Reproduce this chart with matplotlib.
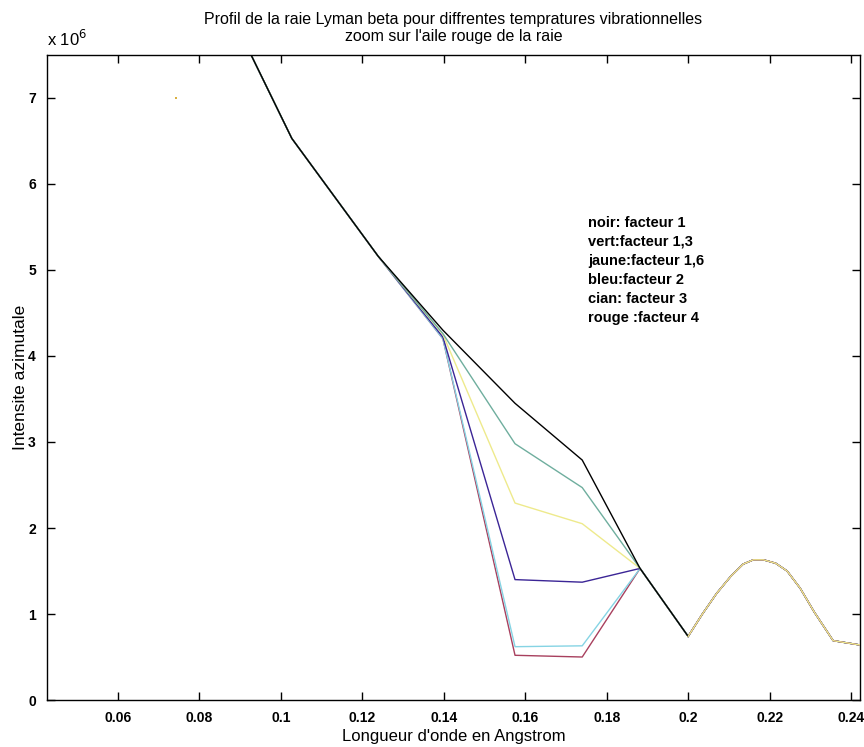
import numpy as np
import matplotlib
matplotlib.use("Agg")
import matplotlib.pyplot as plt
from matplotlib.ticker import FuncFormatter

SCALE = 1e6
# wavelength grid (Angstrom)
x = [0.0855, 0.1027, 0.1239, 0.1398, 0.1575, 0.1740, 0.1882, 0.2000,
     0.2035, 0.2070, 0.2105, 0.2135, 0.2160, 0.2185, 0.2215, 0.2243,
     0.2275, 0.2310, 0.2356, 0.2422]
# common tail (x >= 0.1882)
tail = [1.53, 0.74, 1.00, 1.24, 1.44, 1.58, 1.63, 1.63, 1.59, 1.50,
        1.30, 1.02, 0.69, 0.64]
head = [8.20, 6.53, 5.16]
noir = head + [4.30, 3.45, 2.79] + tail
vert = head + [4.26, 2.98, 2.47] + tail
jaune = head + [4.25, 2.29, 2.05] + tail
bleu = head + [4.22, 1.40, 1.37] + tail
cian = head + [4.20, 0.62, 0.63] + tail
rouge = head + [4.20, 0.52, 0.50] + tail

point_x, point_y = [0.0742], [7.0]

series = [
    (noir, 'black', 6, 1),
    (vert, '#6fae9e', 5, 3),
    (jaune, '#eeea8c', 4, 6),
    (bleu, '#3b2596', 3, 4),
    (cian, '#86d4e4', 2, 2),
    (rouge, '#a8405e', 1, 5),
]
SPLIT = 7  # index of x = 0.2 : left part / right part drawn with different stacking

legend_lines = ["noir: facteur 1", "vert:facteur 1,3", "jaune:facteur 1,6",
                "bleu:facteur 2", "cian: facteur 3", "rouge :facteur 4"]

FAM = ['Liberation Sans', 'DejaVu Sans']

fig = plt.figure(figsize=(8.64, 7.47), dpi=100)
ax = fig.add_axes([0.0544, 0.0629, 0.9410, 0.8635])

xa = np.array(x)
for vals, col, zl, zr in series:
    v = np.array(vals) * SCALE
    ax.plot(xa[:SPLIT + 1], v[:SPLIT + 1], color=col, lw=1.0, zorder=2 + zl * 0.1)
    ax.plot(xa[SPLIT:], v[SPLIT:], color=col, lw=1.0, zorder=2 + zr * 0.1)
ax.plot(point_x, np.array(point_y) * SCALE, 's', color='#d9b040', ms=1.5, mew=0)

ax.set_xlim(0.0426, 0.2422)
ax.set_ylim(0, 7.5 * SCALE)
ax.set_xticks([0.06, 0.08, 0.1, 0.12, 0.14, 0.16, 0.18, 0.2, 0.22, 0.24])
ax.set_xticklabels(['0.06', '0.08', '0.1', '0.12', '0.14', '0.16', '0.18', '0.2', '0.22', '0.24'])
ax.set_yticks(np.arange(0, 8) * SCALE)
ax.yaxis.set_major_formatter(FuncFormatter(lambda v, p: f"{v / SCALE:.0f}"))
ax.tick_params(direction='in', top=True, right=True, length=6, width=1, pad=8)
for lab in ax.get_xticklabels() + ax.get_yticklabels():
    lab.set_fontfamily(FAM)
    lab.set_fontsize(10)
    lab.set_fontweight('bold')
for s in ax.spines.values():
    s.set_linewidth(1.0)

ax.set_xlabel("Longueur d'onde en Angstrom", family=FAM, fontsize=12, labelpad=3)
ax.set_ylabel("Intensite azimutale", family=FAM, fontsize=12.5, labelpad=0)
ax.set_title("Profil de la raie Lyman beta pour diffrentes tempratures vibrationnelles\nzoom sur l'aile rouge de la raie",
             family=FAM, fontsize=11.5, pad=10, linespacing=1.2)
fig.text(0.0544, 0.935, r"x 10$^{6}$", family=FAM, fontsize=12, ha='left', va='bottom')

ax.text(0.1755, 5.63 * SCALE, "\n".join(legend_lines), family=FAM,
        fontsize=10.5, va='top', ha='left', linespacing=1.45, fontweight='semibold')

fig.savefig("out.png", dpi=100)
